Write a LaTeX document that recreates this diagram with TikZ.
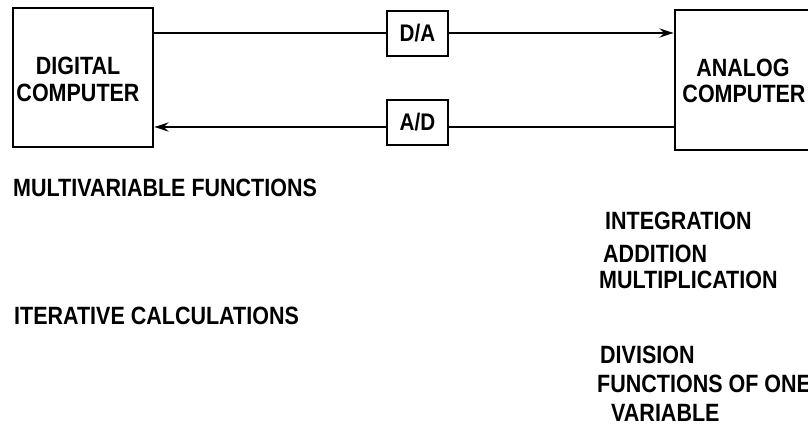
\documentclass[tikz,border=0pt]{standalone}
\usepackage{fontspec}
\setmainfont{Liberation Sans}[FakeStretch=0.86]
\usetikzlibrary{arrows.meta}
\begin{document}
\begin{tikzpicture}[x=1pt,y=-1pt,
  blk/.style={draw,line width=2.8pt,inner sep=0pt},
  conv/.style={draw,line width=2.8pt,minimum width=61pt,minimum height=45pt,inner sep=0pt,font=\bfseries\fontsize{24}{28}\selectfont},
  lbl/.style={font=\bfseries\fontsize{25}{30}\selectfont,anchor=base,inner sep=0pt},
  txt/.style={font=\bfseries\fontsize{25}{28}\selectfont,anchor=base west,inner sep=0pt},
  wire/.style={line width=2.8pt},
  tip/.style={-{Stealth[length=14pt,width=9pt]}}]
\useasboundingbox (0,0) rectangle (808,430);
\node[blk,minimum width=140pt,minimum height=139pt] (dig) at (83,77.5) {};
\node[lbl] (digt1) at (78,75) {DIGITAL};
\node[lbl] (digt2) at (78,102) {COMPUTER};
\node[blk,minimum width=140pt,minimum height=140pt] (ana) at (745,80) {};
\node[lbl] (anat1) at (743,77) {ANALOG};
\node[lbl] (anat2) at (744,103) {COMPUTER};
\node[conv] (da) at (417.5,33.5) {D/A};
\node[conv] (ad) at (417.5,122.5) {A/D};
\coordinate (dout) at (dig.east |- 0,33);
\coordinate (ain) at (ana.west |- 0,33);
\coordinate (aout) at (ana.west |- 0,127);
\coordinate (din) at (dig.east |- 0,127);
\draw[wire] (dout) -- (da.west |- dout);
\draw[wire,tip] (da.east |- ain) -- (ain);
\draw[wire] (aout) -- (ad.east |- aout);
\draw[wire,tip] (ad.west |- din) -- (din);
\node[txt] (mv) at (13,197) {MULTIVARIABLE FUNCTIONS};
\node[txt] (it) at (14,324) {ITERATIVE CALCULATIONS};
\node[txt] (in) at (605,230) {INTEGRATION};
\node[txt] (add) at (603,262) {ADDITION};
\node[txt] (mul) at (599,288) {MULTIPLICATION};
\node[txt] (div) at (600,363) {DIVISION};
\node[txt] (fun) at (597,392) {FUNCTIONS OF ONE};
\node[txt] (var) at (611,421) {VARIABLE};
\end{tikzpicture}
\end{document}
